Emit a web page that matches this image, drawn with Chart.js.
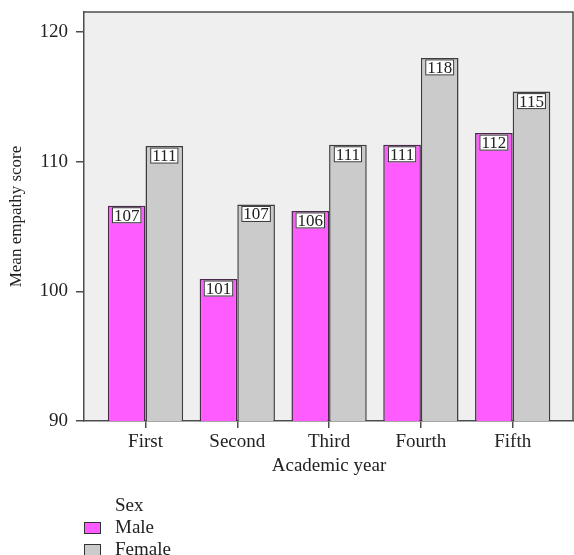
<!DOCTYPE html>
<html>
<head>
<meta charset="utf-8">
<script src="https://cdn.jsdelivr.net/npm/chart.js@4/dist/chart.umd.min.js"></script>
<style>
  html, body { margin: 0; padding: 0; background: #ffffff; }
  #wrap { width: 574px; height: 555px; }
</style>
</head>
<body>
<div id="wrap"><canvas id="c" width="574" height="555"></canvas></div>
<script>
// Academic years on the horizontal axis
const categories = ['First', 'Second', 'Third', 'Fourth', 'Fifth'];
// Mean empathy score per year
const maleScores = [106.6, 100.95, 106.2, 111.3, 112.2];
const femaleScores = [111.2, 106.7, 111.3, 118.0, 115.4];
// Value axis ticks
const yTicks = [90, 100, 110, 120];
const seriesNames = ['Male', 'Female'];
const legendTitle = 'Sex';

const SERIF = '"Liberation Serif", "Times New Roman", serif';
const INK = '#222222';
const FRAME = '#4d4d4d';

const toPoints = arr => arr.map((v, i) => ({ x: i + 1, y: v }));

// Grey plot panel with a frame on top
const panelPlugin = {
  id: 'panel',
  beforeDraw(chart) {
    const { ctx, chartArea: a } = chart;
    ctx.save();
    ctx.fillStyle = '#efefef';
    ctx.fillRect(a.left, a.top, a.right - a.left, a.bottom - a.top);
    ctx.restore();
  },
  afterDraw(chart) {
    const { ctx, chartArea: a } = chart;
    ctx.save();
    ctx.strokeStyle = FRAME;
    ctx.lineWidth = 1.5;
    ctx.beginPath();
    ctx.moveTo(a.left, a.top);
    ctx.lineTo(a.right - 1, a.top);
    ctx.lineTo(a.right - 1, a.bottom);
    ctx.stroke();
    ctx.restore();
  }
};

// Boxed value labels at the top of each bar
const valueBoxPlugin = {
  id: 'valueBoxes',
  afterDatasetsDraw(chart) {
    const { ctx } = chart;
    ctx.save();
    ctx.font = '17px ' + SERIF;
    ctx.textAlign = 'center';
    ctx.textBaseline = 'middle';
    chart.data.datasets.forEach((ds, di) => {
      const meta = chart.getDatasetMeta(di);
      meta.data.forEach((bar, i) => {
        const txt = String(Math.round(ds.data[i].y));
        const w = ctx.measureText(txt).width + 4;
        const h = 16;
        const x = bar.x - w / 2;
        const y = bar.y + 1.5;
        ctx.fillStyle = '#ffffff';
        ctx.fillRect(x, y, w, h);
        ctx.strokeStyle = '#333333';
        ctx.lineWidth = 1;
        ctx.strokeRect(x + 0.5, y + 0.5, w - 1, h - 1);
        ctx.fillStyle = INK;
        ctx.fillText(txt, bar.x, y + h / 2 + 1);
      });
    });
    ctx.restore();
  }
};

// Vertical legend below the plot
const legendPlugin = {
  id: 'stackedLegend',
  afterDraw(chart) {
    const { ctx } = chart;
    ctx.save();
    ctx.font = '19px ' + SERIF;
    ctx.textAlign = 'left';
    ctx.textBaseline = 'middle';
    ctx.fillStyle = INK;
    ctx.fillText(legendTitle, 115, 506);
    chart.data.datasets.forEach((ds, i) => {
      const cy = 528 + i * 22;
      ctx.fillStyle = ds.backgroundColor;
      ctx.fillRect(84, cy - 6, 17, 12);
      ctx.strokeStyle = '#333333';
      ctx.lineWidth = 1;
      ctx.strokeRect(84.5, cy - 5.5, 16, 11);
      ctx.fillStyle = INK;
      ctx.fillText(ds.label, 115, cy);
    });
    ctx.restore();
  }
};

new Chart(document.getElementById('c'), {
  type: 'bar',
  data: {
    datasets: [
      {
        label: seriesNames[0],
        data: toPoints(maleScores),
        backgroundColor: '#ff5cff',
        borderColor: '#4a2a4a',
        borderWidth: 1.5
      },
      {
        label: seriesNames[1],
        data: toPoints(femaleScores),
        backgroundColor: '#cbcbcb',
        borderColor: '#3d3d3d',
        borderWidth: 1.5
      }
    ]
  },
  options: {
    responsive: false,
    devicePixelRatio: 1,
    animation: false,
    categoryPercentage: 0.82,
    barPercentage: 1.0,
    layout: { padding: { top: 12, left: 0, right: 0, bottom: 77.6 } },
    plugins: {
      legend: { display: false },
      tooltip: { enabled: false }
    },
    scales: {
      x: {
        type: 'linear',
        min: 0.33,
        max: 5.668,
        offset: false,
        afterBuildTicks: s => { s.ticks = categories.map((_, i) => ({ value: i + 1 })); },
        afterFit: s => { s.height = 56.4; s.paddingLeft = 0; s.paddingRight = 0; },
        ticks: {
          autoSkip: false,
          maxRotation: 0,
          padding: 3,
          color: INK,
          font: { family: SERIF, size: 19 },
          callback: v => categories[v - 1] ?? ''
        },
        grid: {
          offset: false,
          drawOnChartArea: false,
          drawTicks: true,
          tickLength: 7,
          color: FRAME,
          lineWidth: 1.5
        },
        border: { display: true, color: FRAME, width: 1.5 },
        title: {
          display: true,
          text: 'Academic year',
          color: INK,
          font: { family: SERIF, size: 19 },
          padding: { top: 0, bottom: 0 }
        }
      },
      y: {
        min: 90,
        max: 121.54,
        afterBuildTicks: s => { s.ticks = yTicks.map(v => ({ value: v })); },
        afterFit: s => { s.width = 84; s.paddingTop = 0; s.paddingBottom = 0; },
        ticks: {
          padding: 8,
          color: INK,
          font: { family: SERIF, size: 19 }
        },
        grid: {
          drawOnChartArea: false,
          drawTicks: true,
          tickLength: 8,
          color: FRAME,
          lineWidth: 1.5
        },
        border: { display: true, color: FRAME, width: 1.5 },
        title: {
          display: true,
          text: 'Mean empathy score',
          color: INK,
          font: { family: SERIF, size: 17 },
          padding: { top: 6, bottom: 0 }
        }
      }
    }
  },
  plugins: [panelPlugin, valueBoxPlugin, legendPlugin]
});
</script>
</body>
</html>
